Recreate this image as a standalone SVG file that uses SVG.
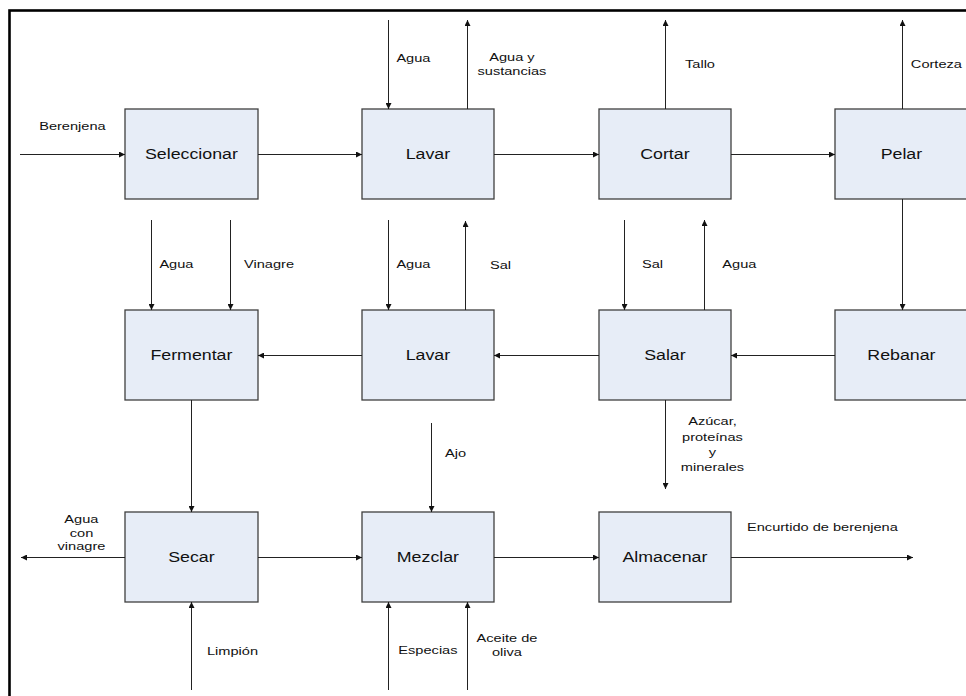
<svg xmlns="http://www.w3.org/2000/svg" width="966" height="696" viewBox="0 0 966 696">
  <style>
    .box { fill: #E7EDF7; stroke: #3f3f3f; stroke-width: 1.3; }
    .name { font-family: "Liberation Sans", Arial, sans-serif; font-size: 14px; fill: #111; text-anchor: middle;
            transform-box: fill-box; transform-origin: center; transform: scaleX(1.27); }
    .lbl { font-family: "Liberation Sans", Arial, sans-serif; font-size: 11.5px; fill: #111; text-anchor: middle;
           transform-box: fill-box; transform-origin: center; transform: scaleX(1.27); }
    .flow { stroke: #222; stroke-width: 1; fill: none; }
    .arr { marker-end: url(#head); }
  </style>
  <defs>
    <marker id="head" markerUnits="userSpaceOnUse" markerWidth="7" markerHeight="6" refX="6" refY="3" orient="auto">
      <path d="M0,0 L6,3 L0,6 z" fill="#111"/>
    </marker>
  </defs>

  <rect width="966" height="696" fill="#fff"/>
  <!-- outer frame (runs off the right and bottom edges) -->
  <rect x="9.5" y="10.5" width="980" height="700" fill="none" stroke="#000" stroke-width="2.6"/>

  <!-- process steps -->
  <g id="seleccionar"><rect class="box" x="125" y="109" width="133" height="90"/><text class="name" x="191.5" y="159">Seleccionar</text></g>
  <g id="lavar1"><rect class="box" x="362" y="109" width="132" height="90"/><text class="name" x="428" y="159">Lavar</text></g>
  <g id="cortar"><rect class="box" x="599" y="109" width="132" height="90"/><text class="name" x="665" y="159">Cortar</text></g>
  <g id="pelar"><rect class="box" x="835" y="109" width="133" height="90"/><text class="name" x="901.5" y="159">Pelar</text></g>

  <g id="fermentar"><rect class="box" x="125" y="310" width="133" height="90"/><text class="name" x="191.5" y="360">Fermentar</text></g>
  <g id="lavar2"><rect class="box" x="362" y="310" width="132" height="90"/><text class="name" x="428" y="360">Lavar</text></g>
  <g id="salar"><rect class="box" x="599" y="310" width="132" height="90"/><text class="name" x="665" y="360">Salar</text></g>
  <g id="rebanar"><rect class="box" x="835" y="310" width="133" height="90"/><text class="name" x="901.5" y="360">Rebanar</text></g>

  <g id="secar"><rect class="box" x="125" y="512" width="133" height="90"/><text class="name" x="191.5" y="562">Secar</text></g>
  <g id="mezclar"><rect class="box" x="362" y="512" width="132" height="90"/><text class="name" x="428" y="562">Mezclar</text></g>
  <g id="almacenar"><rect class="box" x="599" y="512" width="132" height="90"/><text class="name" x="665" y="562">Almacenar</text></g>

  <!-- flows between steps, inputs and outputs -->
  <g id="connectors">
    <!-- row 1 -->
    <line class="flow arr" x1="20" y1="154.5" x2="125" y2="154.5"/>
    <line class="flow arr" x1="258" y1="154.5" x2="362" y2="154.5"/>
    <line class="flow arr" x1="494" y1="154.5" x2="599" y2="154.5"/>
    <line class="flow arr" x1="731" y1="154.5" x2="835" y2="154.5"/>
    <line class="flow arr" x1="388.5" y1="20" x2="388.5" y2="109"/>
    <line class="flow arr" x1="467.5" y1="109" x2="467.5" y2="20"/>
    <line class="flow arr" x1="665.5" y1="109" x2="665.5" y2="20"/>
    <line class="flow arr" x1="902.5" y1="109" x2="902.5" y2="20"/>
    <line class="flow arr" x1="902.5" y1="199" x2="902.5" y2="310"/>

    <!-- row 2 -->
    <line class="flow arr" x1="835" y1="355.5" x2="731" y2="355.5"/>
    <line class="flow arr" x1="599" y1="355.5" x2="494" y2="355.5"/>
    <line class="flow arr" x1="362" y1="355.5" x2="258" y2="355.5"/>
    <line class="flow arr" x1="151.5" y1="220" x2="151.5" y2="310"/>
    <line class="flow arr" x1="230.5" y1="220" x2="230.5" y2="310"/>
    <line class="flow arr" x1="388.5" y1="220" x2="388.5" y2="310"/>
    <line class="flow arr" x1="465.5" y1="310" x2="465.5" y2="221"/>
    <line class="flow arr" x1="624.5" y1="220" x2="624.5" y2="310"/>
    <line class="flow arr" x1="704.5" y1="310" x2="704.5" y2="220"/>
    <line class="flow arr" x1="665.5" y1="400" x2="665.5" y2="489"/>
    <line class="flow arr" x1="191.5" y1="400" x2="191.5" y2="512"/>

    <!-- row 3 -->
    <line class="flow arr" x1="125" y1="557.5" x2="21" y2="557.5"/>
    <line class="flow arr" x1="258" y1="557.5" x2="362" y2="557.5"/>
    <line class="flow arr" x1="494" y1="557.5" x2="599" y2="557.5"/>
    <line class="flow arr" x1="731" y1="557.5" x2="913" y2="557.5"/>
    <line class="flow arr" x1="431.5" y1="423" x2="431.5" y2="512"/>
    <line class="flow arr" x1="191.5" y1="690" x2="191.5" y2="602"/>
    <line class="flow arr" x1="388.5" y1="690" x2="388.5" y2="602"/>
    <line class="flow arr" x1="467.5" y1="690" x2="467.5" y2="602"/>

    <!-- flow labels -->
    <text class="lbl" x="72.5" y="130">Berenjena</text>
    <text class="lbl" x="413.5" y="62">Agua</text>
    <text class="lbl" x="512" y="61.5">Agua y</text>
    <text class="lbl" x="512" y="75">sustancias</text>
    <text class="lbl" x="700" y="68">Tallo</text>
    <text class="lbl" x="936.5" y="68">Corteza</text>

    <text class="lbl" x="176.5" y="268">Agua</text>
    <text class="lbl" x="269" y="268">Vinagre</text>
    <text class="lbl" x="413.5" y="268">Agua</text>
    <text class="lbl" x="500.5" y="269.5">Sal</text>
    <text class="lbl" x="652.5" y="268">Sal</text>
    <text class="lbl" x="739.5" y="268">Agua</text>

    <text class="lbl" x="712.5" y="425.5">Azúcar,</text>
    <text class="lbl" x="712.5" y="440.8">proteínas</text>
    <text class="lbl" x="712.5" y="456">y</text>
    <text class="lbl" x="712.5" y="471.5">minerales</text>
    <text class="lbl" x="455.5" y="457">Ajo</text>

    <text class="lbl" x="81.5" y="523">Agua</text>
    <text class="lbl" x="81.5" y="536.7">con</text>
    <text class="lbl" x="81.5" y="550.4">vinagre</text>
    <text class="lbl" x="822.5" y="531">Encurtido de berenjena</text>
    <text class="lbl" x="232.5" y="655">Limpión</text>
    <text class="lbl" x="428" y="654.5">Especias</text>
    <text class="lbl" x="507" y="642.5">Aceite de</text>
    <text class="lbl" x="507" y="656.5">oliva</text>
  </g>
</svg>
